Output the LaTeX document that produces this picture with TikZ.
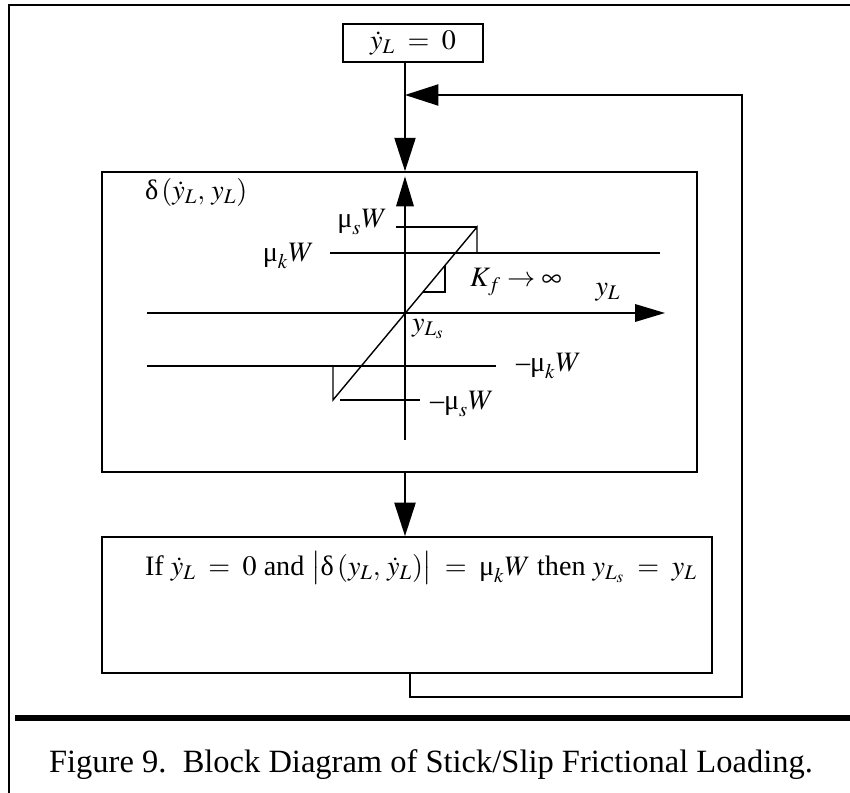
\documentclass[tikz,border=0pt]{standalone}
\usepackage{mathptmx}
\usepackage{fontspec}
\setmainfont{Liberation Serif}
\usetikzlibrary{arrows.meta}
\newcommand\gmu{\mbox{μ}}
\newcommand\gdel{\mbox{δ}}
\newcommand\ndash{\mbox{–}}
\begin{document}
\begin{tikzpicture}[x=0.02cm, y=-0.02cm,
  blk/.style={draw, line width=1pt, inner sep=0pt},
  arr/.style={line width=1.1pt, -{Triangle[length=19pt,width=12pt]}},
  ax/.style={line width=0.8pt},
  lbl/.style={font=\fontsize{16}{18}\selectfont, inner sep=1pt}]
\useasboundingbox (0,0) rectangle (850,793);
\draw[line width=0.9pt] (9,793) -- (9,5) -- (850,5);
\coordinate (o) at (405,313);
\coordinate (fb) at (742,95);
\coordinate (ret) at (410,697);
\node[blk, lbl, minimum width=2.8cm, minimum height=0.76cm] (zero) at (413,43) {$\dot{y}_L\;=\;0$};
\node[blk, minimum width=11.9cm, minimum height=6cm] (fric) at (399.5,322) {};
\node[blk, minimum width=12.2cm, minimum height=2.72cm] (stick) at (407,605) {};
\draw[arr] (zero.south -| o) -- (fric.north -| o);
\draw[arr] (fric.south -| o) -- (stick.north -| o);
\draw[arr] (stick.south -| ret) -- (ret) -| (fb) -- (fb -| o);
% friction law
\draw[ax, -{Triangle[length=17pt,width=10pt]}] (405,440) -- ([yshift=-3pt]fric.north -| o);
\draw[ax, -{Triangle[length=17pt,width=10pt]}] (147,313) -- (665,313);
\draw[ax] (330,253) -- (660,253);
\draw[ax] (396,227) -- (477,227);
\draw[ax] (147,366) -- (496,366);
\draw[ax] (340,400) -- (420,400);
\draw[ax] (333,366) -- (333,400) -- (477,227) -- (477,253);
\draw[ax] (423,292) -- (445,292) -- (445,265);
\node[lbl, anchor=west] (dlab) at (143,192) {$\gdel\,(\dot{y}_L,\,y_L)$};
\node[lbl, anchor=east] (mus) at (389,222) {$\gmu_s W$};
\node[lbl, anchor=east] (muk) at (316,256) {$\gmu_k W$};
\node[lbl, anchor=west] (kf) at (468,282) {$K_f \rightarrow \infty$};
\node[lbl] (yl) at (608,292) {$y_L$};
\node[lbl, anchor=north west] (yls) at (410,317) {$y_{L_s}$};
\node[lbl, anchor=west] (nmuk) at (514,366) {$\ndash\gmu_k W$};
\node[lbl, anchor=west] (nmus) at (428,404) {$\ndash\gmu_s W$};
\node[lbl, anchor=west] (rule) at (143,568) {If $\dot{y}_L\;=\;0$ and $\bigl|\gdel\,(y_L,\,\dot{y}_L)\bigr|\;=\;\gmu_k W$ then $y_{L_s}\;=\;y_L$};
\draw[line width=3.2pt] (15,718) -- (850,718);
\node[font=\fontsize{18.5}{21}\selectfont] (cap) at (431,765) {Figure 9.\ \ Block Diagram of Stick/Slip Frictional Loading.};
\end{tikzpicture}
\end{document}
